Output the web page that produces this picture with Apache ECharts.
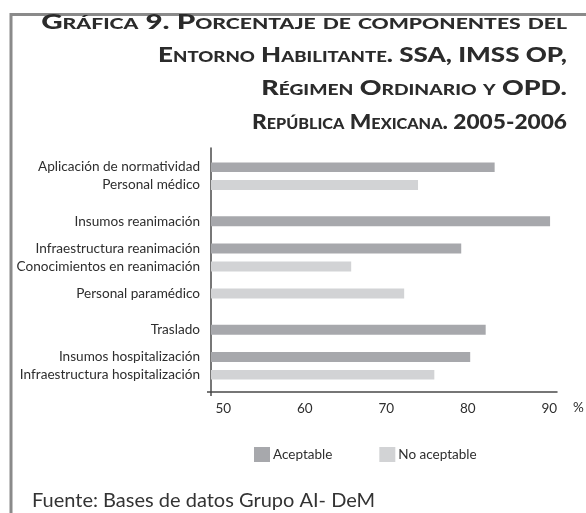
<!DOCTYPE html>
<html>
<head>
<meta charset="utf-8">
<script src="https://cdn.jsdelivr.net/npm/echarts@6/dist/echarts.min.js"></script>
<style>
html,body{margin:0;padding:0;background:#fff;}
#chart{width:586px;height:513px;}
</style>
</head>
<body>
<div id="chart"></div>
<script>
// ---- data ----
const categories = [
  'Aplicación de normatividad',
  'Personal médico',
  'Insumos reanimación',
  'Infraestructura reanimación',
  'Conocimientos en reanimación',
  'Personal paramédico',
  'Traslado',
  'Insumos hospitalización',
  'Infraestructura hospitalización'
];
const aceptable    = [83.3, null, 90.1, 79.2, null, null, 82.2, 80.3, null];
const noAceptable  = [null, 73.9, null, null, 65.7, 72.2, null, null, 75.9];
const seriesNames  = ['Aceptable', 'No aceptable'];
const tickLabels   = [50, 60, 70, 80, 90];
const titleLines = [
  'Gráfica 9. Porcentaje de componentes del',
  'Entorno Habilitante. SSA, IMSS OP,',
  'Régimen Ordinario y OPD.',
  'República Mexicana. 2005-2006'
];
const sourceText = 'Fuente: Bases de datos Grupo AI- DeM';

// ---- layout (empty slots before each category, visual spacing only) ----
const slotsBefore = [0, 1, 3, 2, 1, 2, 3, 2, 1];
const titleStretch = [1.41, 1.24, 1.28, 1.08];

const slotCats = [], slotA = [], slotN = [];
categories.forEach((c, i) => {
  for (let k = 0; k < slotsBefore[i]; k++) { slotCats.push('\u200b'.repeat(slotCats.length + 1)); slotA.push(null); slotN.push(null); }
  slotCats.push(c); slotA.push(aceptable[i]); slotN.push(noAceptable[i]);
});

const X_MIN = 48.5, X_MAX = 90.95;
const txt = '#2e2e2e';
const FONT = 'Lato';

const titleGraphics = titleLines.map((t, i) => ({
  type: 'text', silent: true,
  x: 567, y: 22 + i * 33.3,
  scaleX: titleStretch[i], originX: 0, originY: 0,
  style: {
    text: t, align: 'right', verticalAlign: 'middle',
    font: 'small-caps 900 21px Lato', fill: '#2b2b2b'
  }
}));

const chart = echarts.init(document.getElementById('chart'), null, {renderer: 'canvas'});
chart.setOption({
  animation: false,
  backgroundColor: '#fff',
  textStyle: {fontFamily: FONT},
  legend: {
    data: seriesNames,
    left: 249,
    top: 442,
    itemWidth: 16,
    itemHeight: 15,
    itemGap: 47,
    icon: 'rect',
    textStyle: {fontSize: 13.5, color: txt, fontFamily: FONT, padding: [0, 0, 0, -2]}
  },
  grid: [
    {left: 211, right: 29, top: 162.5, bottom: 133.5, containLabel: false},
    {left: 211, right: 29, top: 148, bottom: 121, containLabel: false}
  ],
  xAxis: [
    {gridIndex: 0, type: 'value', min: X_MIN, max: X_MAX, show: false, splitLine: {show: false}},
    {
      gridIndex: 1, type: 'value', min: X_MIN, max: X_MAX,
      splitLine: {show: false},
      axisTick: {show: false},
      axisLine: {show: true, lineStyle: {color: '#4a4a4a', width: 1.5}},
      axisLabel: {
        color: txt, fontSize: 13.5, fontFamily: FONT, margin: 10,
        showMinLabel: false, showMaxLabel: false,
        formatter: v => tickLabels.includes(v) ? String(v) : ''
      },
      name: '%', nameLocation: 'end', nameGap: 16,
      nameTextStyle: {color: txt, fontSize: 13.5, fontFamily: FONT, verticalAlign: 'top', padding: [9, 0, 0, 0]}
    }
  ],
  yAxis: [
    {
      gridIndex: 0, type: 'category', data: slotCats, inverse: true,
      axisLine: {show: false}, axisTick: {show: false}, splitLine: {show: false},
      axisLabel: {color: txt, fontSize: 13.6, fontFamily: FONT, margin: 11, interval: 0}
    },
    {
      gridIndex: 1, type: 'value', min: 0, max: 1,
      axisLine: {show: true, lineStyle: {color: '#4a4a4a', width: 1.5}},
      axisTick: {show: false}, axisLabel: {show: false}, splitLine: {show: false}
    }
  ],
  series: [
    {
      name: seriesNames[0], type: 'bar', xAxisIndex: 0, yAxisIndex: 0,
      data: slotA, barWidth: 10, barGap: '-100%',
      itemStyle: {color: '#a7a8ac'}
    },
    {
      name: seriesNames[1], type: 'bar', xAxisIndex: 0, yAxisIndex: 0,
      data: slotN, barWidth: 10, barGap: '-100%',
      itemStyle: {color: '#d2d3d5'}
    }
  ],
  graphic: [
    {
      type: 'polyline', silent: true,
      shape: {points: [[11, 513], [11, 14.5], [586, 14.5]]},
      style: {stroke: '#8a8a8a', lineWidth: 3, fill: null}
    },
    {
      type: 'line', silent: true,
      shape: {x1: 207, y1: 392, x2: 211, y2: 392},
      style: {stroke: '#4a4a4a', lineWidth: 1.5}
    },
    {
      type: 'line', silent: true,
      shape: {x1: 211, y1: 392, x2: 211, y2: 396},
      style: {stroke: '#4a4a4a', lineWidth: 1.5}
    },
    {
      type: 'text', left: 32, top: 491,
      style: {text: sourceText, fontSize: 20, fontFamily: FONT, fill: '#333'}
    }
  ].concat(titleGraphics)
});
</script>
</body>
</html>
